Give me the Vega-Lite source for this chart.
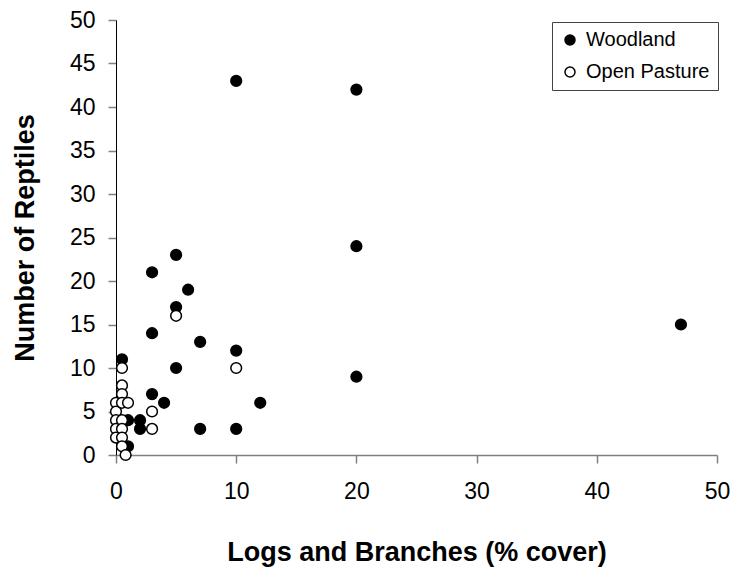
{
  "$schema": "https://vega.github.io/schema/vega-lite/v6.json",
  "width": 601,
  "height": 435,
  "autosize": {"type": "none"},
  "padding": {"left": 116, "top": 20, "right": 16, "bottom": 116},
  "background": "white",
  "config": {
    "view": {"stroke": null},
    "font": "Liberation Sans"
  },
  "data": {
    "values": [
      {"cover": 0.5, "reptiles": 11, "habitat": "Woodland"},
      {"cover": 1, "reptiles": 4, "habitat": "Woodland"},
      {"cover": 1, "reptiles": 1, "habitat": "Woodland"},
      {"cover": 2, "reptiles": 4, "habitat": "Woodland"},
      {"cover": 2, "reptiles": 3, "habitat": "Woodland"},
      {"cover": 3, "reptiles": 21, "habitat": "Woodland"},
      {"cover": 3, "reptiles": 14, "habitat": "Woodland"},
      {"cover": 3, "reptiles": 7, "habitat": "Woodland"},
      {"cover": 4, "reptiles": 6, "habitat": "Woodland"},
      {"cover": 5, "reptiles": 23, "habitat": "Woodland"},
      {"cover": 5, "reptiles": 17, "habitat": "Woodland"},
      {"cover": 5, "reptiles": 10, "habitat": "Woodland"},
      {"cover": 6, "reptiles": 19, "habitat": "Woodland"},
      {"cover": 7, "reptiles": 13, "habitat": "Woodland"},
      {"cover": 7, "reptiles": 3, "habitat": "Woodland"},
      {"cover": 10, "reptiles": 43, "habitat": "Woodland"},
      {"cover": 10, "reptiles": 12, "habitat": "Woodland"},
      {"cover": 10, "reptiles": 3, "habitat": "Woodland"},
      {"cover": 12, "reptiles": 6, "habitat": "Woodland"},
      {"cover": 20, "reptiles": 42, "habitat": "Woodland"},
      {"cover": 20, "reptiles": 24, "habitat": "Woodland"},
      {"cover": 20, "reptiles": 9, "habitat": "Woodland"},
      {"cover": 47, "reptiles": 15, "habitat": "Woodland"},
      {"cover": 0, "reptiles": 6, "habitat": "Open Pasture"},
      {"cover": 0, "reptiles": 5, "habitat": "Open Pasture"},
      {"cover": 0, "reptiles": 4, "habitat": "Open Pasture"},
      {"cover": 0, "reptiles": 3, "habitat": "Open Pasture"},
      {"cover": 0, "reptiles": 2, "habitat": "Open Pasture"},
      {"cover": 0.5, "reptiles": 10, "habitat": "Open Pasture"},
      {"cover": 0.5, "reptiles": 8, "habitat": "Open Pasture"},
      {"cover": 0.5, "reptiles": 7, "habitat": "Open Pasture"},
      {"cover": 0.5, "reptiles": 6, "habitat": "Open Pasture"},
      {"cover": 1, "reptiles": 6, "habitat": "Open Pasture"},
      {"cover": 0.5, "reptiles": 4, "habitat": "Open Pasture"},
      {"cover": 0.5, "reptiles": 3, "habitat": "Open Pasture"},
      {"cover": 0.5, "reptiles": 2, "habitat": "Open Pasture"},
      {"cover": 0.5, "reptiles": 1, "habitat": "Open Pasture"},
      {"cover": 0.8, "reptiles": 0, "habitat": "Open Pasture"},
      {"cover": 3, "reptiles": 5, "habitat": "Open Pasture"},
      {"cover": 3, "reptiles": 3, "habitat": "Open Pasture"},
      {"cover": 5, "reptiles": 16, "habitat": "Open Pasture"},
      {"cover": 10, "reptiles": 10, "habitat": "Open Pasture"}
    ]
  },
  "mark": {"type": "point", "filled": true, "shape": "circle", "size": 115, "stroke": "black", "strokeWidth": 1.5, "opacity": 1},
  "encoding": {
    "x": {
      "field": "cover", "type": "quantitative",
      "scale": {"domain": [0, 50], "nice": false, "zero": true},
      "axis": {
        "title": "Logs and Branches (% cover)",
        "values": [0, 10, 20, 30, 40, 50],
        "grid": false,
        "domainColor": "#808080", "domainWidth": 1.5,
        "tickColor": "#808080", "tickSize": 8, "tickWidth": 1.5,
        "labelFontSize": 23, "labelColor": "black", "labelPadding": 17,
        "labelFont": "Liberation Sans", "labelFlush": false,
        "titleFontSize": 27, "titleFontWeight": "bold", "titleColor": "black",
        "titleFont": "Liberation Sans", "titlePadding": 36
      }
    },
    "y": {
      "field": "reptiles", "type": "quantitative",
      "scale": {"domain": [0, 50], "nice": false, "zero": true},
      "axis": {
        "title": "Number of Reptiles",
        "values": [0, 5, 10, 15, 20, 25, 30, 35, 40, 45, 50],
        "grid": false,
        "domainColor": "black", "domainWidth": 1,
        "tickColor": "#808080", "tickSize": 8, "tickWidth": 1.5,
        "labelFontSize": 23, "labelColor": "black", "labelPadding": 13,
        "labelFont": "Liberation Sans", "labelFlush": false,
        "titleFontSize": 27, "titleFontWeight": "bold", "titleColor": "black",
        "titleFont": "Liberation Sans", "titlePadding": 30
      }
    },
    "fill": {
      "field": "habitat", "type": "nominal",
      "scale": {"domain": ["Woodland", "Open Pasture"], "range": ["black", "white"]},
      "legend": {
        "title": null,
        "orient": "none",
        "legendX": 436,
        "legendY": 2,
        "direction": "vertical",
        "strokeColor": "#444444",
        "fillColor": "white",
        "padding": 8,
        "symbolType": "circle",
        "symbolSize": 100,
        "symbolStrokeColor": "black",
        "symbolStrokeWidth": 1.5,
        "labelFontSize": 20,
        "labelFont": "Liberation Sans",
        "labelColor": "black",
        "rowPadding": 12,
        "labelOffset": 6
      }
    },
    "order": {"field": "habitat", "sort": "descending"}
  }
}
